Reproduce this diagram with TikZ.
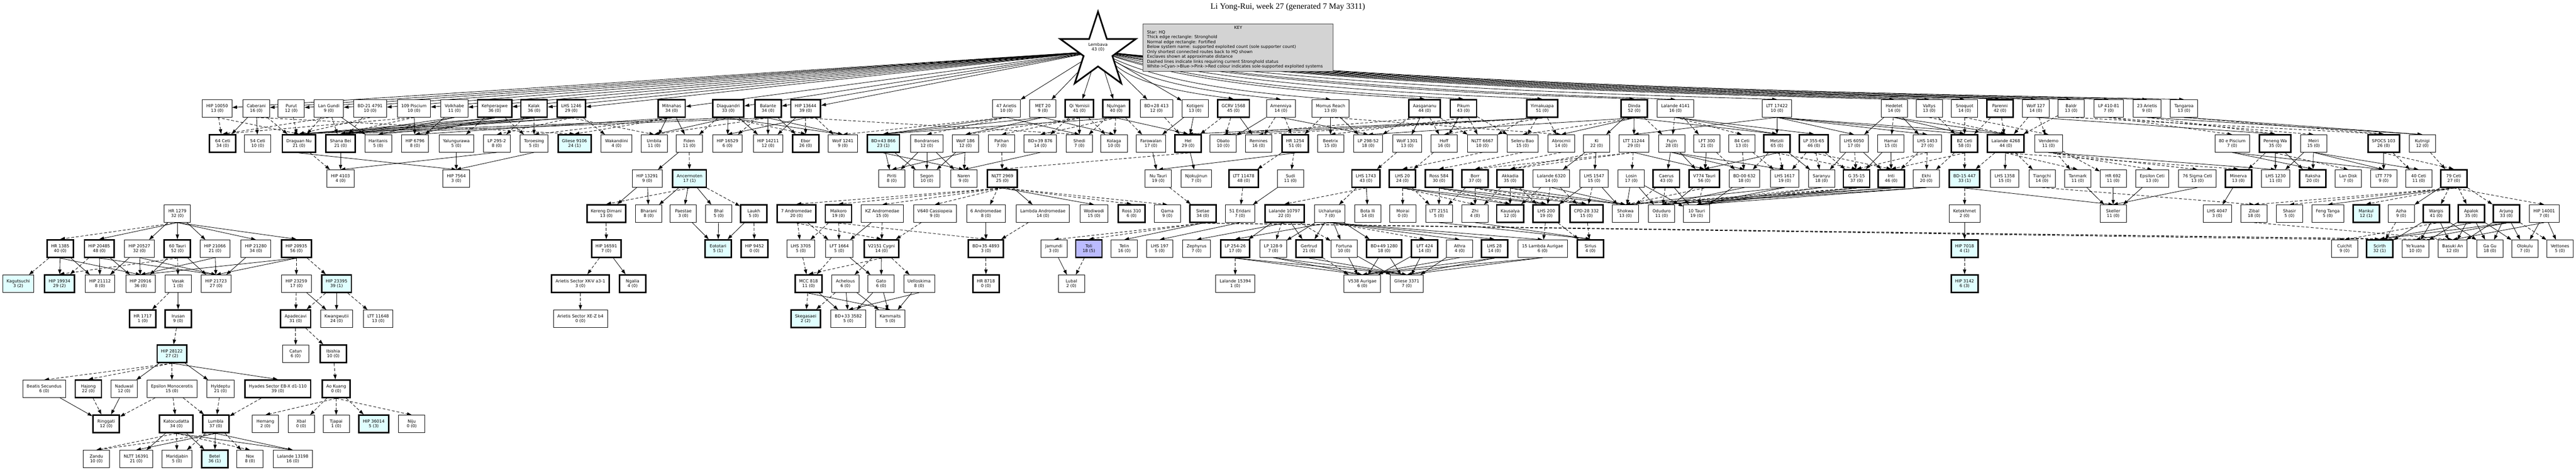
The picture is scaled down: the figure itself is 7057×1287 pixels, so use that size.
\documentclass[tikz,border=0pt]{standalone}
\usepackage{fontspec}
\setmainfont{DejaVu Sans}
\newfontfamily\titlefont{Liberation Serif}
\usetikzlibrary{shapes.geometric,arrows.meta}
\pgfdeclarelayer{bgl}
\pgfdeclarelayer{edl}
\pgfsetlayers{bgl,edl,main}
\definecolor{cyanbg}{HTML}{E0FFFF}
\definecolor{bluebg}{HTML}{BBBBFF}
\definecolor{keybg}{HTML}{D3D3D3}
\newdimen\grxa \newdimen\grxb
\newcommand\grEdge[3]{%
  \pgfextractx{\grxa}{\pgfpointanchor{#2}{center}}%
  \pgfextractx{\grxb}{\pgfpointanchor{#3}{center}}%
  \pgfmathsetmacro\grdx{abs(\grxa-\grxb)}%
  \ifdim\grdx pt>90pt\relax\draw[#1] (#2.south) -- (#3.north);\else\draw[#1] (#2) -- (#3);\fi}
\newcommand\sysnode[6]{\node[#1] (#2) at (#3,#4) {#5\\#6};}
\tikzset{
  sys/.style={draw=black, line width=0.6pt, fill=white, minimum width=36pt, minimum height=24pt, inner xsep=5.5pt, inner ysep=0pt, align=center, font=\fontsize{5.75}{6.5}\selectfont},
  fort/.style={sys},
  strong/.style={sys, line width=2pt},
  fortc/.style={sys, fill=cyanbg},
  strongc/.style={strong, fill=cyanbg},
  strongb/.style={strong, fill=bluebg},
  lnk/.style={line width=0.6pt, -{Triangle[length=6.5pt,width=4.5pt]}},
  dlnk/.style={lnk, dash pattern=on 4pt off 2.5pt},
}
\begin{document}
\begin{tikzpicture}[x=0.5pt,y=-0.5pt]
\begin{pgfonlayer}{bgl}
\fill[white] (0,0) rectangle (7057,1287);
\end{pgfonlayer}
\useasboundingbox (0,0) rectangle (7057,1287);
% title, star, key
\node[font=\titlefont\fontsize{11.3}{13}\selectfont, inner sep=0pt] (title) at (3528,19) {Li Yong-Rui, week 27 (generated 7 May 3311)};
\node[star, star points=5, star point ratio=2.618, minimum size=108.5pt, inner sep=0pt, draw, line width=2.2pt, fill=white] (star) at (3008,140.5) {};
\node[font=\fontsize{5.75}{6.5}\selectfont, align=center, inner sep=0pt] (starlbl) at (3008,129) {Lembava\\43 (0)};
\node[draw=black!75, line width=0.6pt, fill=keybg, minimum width=260.5pt, minimum height=65.5pt, inner sep=0pt] (key) at (3391.5,130.5) {};
\node[font=\fontsize{5.75}{6.5}\selectfont, inner sep=0pt] (keyttl) at (3392,75.5) {KEY};
\node[font=\fontsize{5.75}{6.65}\selectfont, align=left, anchor=west, inner sep=0pt] (keytxt) at (3142,136) {Star: HQ\\Thick edge rectangle: Stronghold\\Normal edge rectangle: Fortified\\Below system name: supported exploited count (sole supporter count)\\Only shortest connected routes back to HQ shown\\Exclaves shown at approximate distance\\Dashed lines indicate links requiring current Stronghold status\\White->Cyan->Blue->Pink->Red colour indicates sole-supported exploited systems};
% row 1
\sysnode{fort}{a01}{595}{297}{HIP 10050}{13 (0)}
\sysnode{fort}{a02}{702}{297}{Caberani}{16 (0)}
\sysnode{fort}{a03}{798}{297}{Purut}{12 (0)}
\sysnode{fort}{a04}{901}{297}{Lan Gundi}{9 (0)}
\sysnode{fort}{a05}{1014}{297}{BD-21 4791}{10 (0)}
\sysnode{fort}{a06}{1134}{297}{109 Piscium}{10 (0)}
\sysnode{fort}{a07}{1245}{297}{Volkhabe}{11 (0)}
\sysnode{strong}{a08}{1355}{297}{Kehperagwe}{36 (0)}
\sysnode{strong}{a09}{1463}{297}{Kalak}{36 (0)}
\sysnode{strong}{a10}{1565}{297}{LHS 1246}{29 (0)}
\sysnode{strong}{a11}{1840}{297}{Mitnahas}{34 (0)}
\sysnode{strong}{a12}{1995}{297}{Diaguandri}{33 (0)}
\sysnode{strong}{a13}{2104}{297}{Balante}{34 (0)}
\sysnode{strong}{a14}{2207}{297}{HIP 13644}{39 (0)}
\sysnode{fort}{a15}{2757}{297}{47 Arietis}{10 (0)}
\sysnode{fort}{a16}{2857}{297}{MET 20}{9 (0)}
\sysnode{strong}{a17}{2957}{297}{Qi Yomisii}{41 (0)}
\sysnode{strong}{a18}{3058}{297}{Njulngan}{40 (0)}
\sysnode{fort}{a19}{3168}{297}{BD+28 413}{12 (0)}
\sysnode{fort}{a20}{3274}{297}{Kotigeni}{13 (0)}
\sysnode{strong}{a21}{3379}{297}{GCRV 1568}{45 (0)}
\sysnode{fort}{a22}{3509}{297}{Amenniya}{14 (0)}
\sysnode{fort}{a23}{3645}{297}{Momus Reach}{13 (0)}
\sysnode{strong}{a24}{3903}{297}{Aasgananu}{44 (0)}
\sysnode{strong}{a25}{4009}{297}{Pikum}{43 (0)}
\sysnode{strong}{a26}{4225}{297}{Yimakuapa}{51 (0)}
\sysnode{strong}{a27}{4477}{297}{Dinda}{52 (0)}
\sysnode{fort}{a28}{4590}{297}{Lalande 4141}{16 (0)}
\sysnode{fort}{a29}{4868}{297}{LTT 17422}{10 (0)}
\sysnode{fort}{a30}{5189}{297}{Hedetet}{14 (0)}
\sysnode{fort}{a31}{5285}{297}{Valtys}{13 (0)}
\sysnode{fort}{a32}{5382}{297}{Snoquot}{14 (0)}
\sysnode{strong}{a33}{5479}{297}{Parenni}{42 (0)}
\sysnode{fort}{a34}{5577}{297}{Wolf 127}{14 (0)}
\sysnode{fort}{a35}{5674}{297}{Baldr}{13 (0)}
\sysnode{fort}{a36}{5777}{297}{LP 410-81}{7 (0)}
\sysnode{fort}{a37}{5882}{297}{23 Arietis}{9 (0)}
\sysnode{fort}{a38}{5983}{297}{Tangaroa}{13 (0)}
% row 2
\sysnode{strong}{b01}{610}{393}{64 Ceti}{34 (0)}
\sysnode{fort}{b02}{706}{393}{54 Ceti}{10 (0)}
\sysnode{strong}{b03}{819}{393}{Draguan Nu}{21 (0)}
\sysnode{strong}{b04}{933}{393}{Shana Bei}{21 (0)}
\sysnode{fort}{b05}{1036}{393}{Haritanis}{5 (0)}
\sysnode{fort}{b06}{1137}{393}{HIP 6796}{8 (0)}
\sysnode{fort}{b07}{1250}{393}{Yalungurawa}{5 (0)}
\sysnode{fort}{b08}{1361}{393}{LP 295-2}{8 (0)}
\sysnode{fort}{b09}{1463}{393}{Toroesing}{5 (0)}
\sysnode{strongc}{b10}{1574}{393}{Gliese 9106}{24 (1)}
\sysnode{fort}{b11}{1689}{393}{Wakandiini}{4 (0)}
\sysnode{fort}{b12}{1792}{393}{Umbila}{11 (0)}
\sysnode{fort}{b13}{1888}{393}{Fiden}{11 (0)}
\sysnode{fort}{b14}{1993}{393}{HIP 16529}{6 (0)}
\sysnode{fort}{b15}{2104}{393}{HIP 14211}{12 (0)}
\sysnode{strong}{b16}{2207}{393}{Ebor}{26 (0)}
\sysnode{fort}{b17}{2309}{393}{Wolf 1241}{9 (0)}
\sysnode{strongc}{b18}{2420}{393}{BD+43 866}{23 (1)}
\sysnode{fort}{b19}{2539}{393}{Bondranses}{12 (0)}
\sysnode{fort}{b20}{2645}{393}{Wolf 186}{12 (0)}
\sysnode{fort}{b21}{2744}{393}{Pathan}{7 (0)}
\sysnode{fort}{b22}{2850}{393}{BD+39 876}{14 (0)}
\sysnode{fort}{b23}{2957}{393}{Shedi}{7 (0)}
\sysnode{fort}{b24}{3052}{393}{Kolaga}{10 (0)}
\sysnode{fort}{b25}{3153}{393}{Farowalan}{17 (0)}
\sysnode{strong}{b26}{3255}{393}{Hel}{29 (0)}
\sysnode{fort}{b27}{3351}{393}{Obato}{10 (0)}
\sysnode{fort}{b28}{3448}{393}{Remines}{16 (0)}
\sysnode{strong}{b29}{3548}{393}{HR 1254}{51 (0)}
\sysnode{fort}{b30}{3645}{393}{Beetrix}{15 (0)}
\sysnode{fort}{b31}{3748}{393}{LP 298-52}{18 (0)}
\sysnode{fort}{b32}{3855}{393}{Wolf 1301}{13 (0)}
\sysnode{fort}{b33}{3956}{393}{Hoff}{16 (0)}
\sysnode{fort}{b34}{4061}{393}{NLTT 6667}{10 (0)}
\sysnode{fort}{b35}{4171}{393}{Seleru Bao}{15 (0)}
\sysnode{fort}{b36}{4277}{393}{Abrocmii}{14 (0)}
\sysnode{fort}{b37}{4374}{393}{Ki}{22 (0)}
\sysnode{fort}{b38}{4476}{393}{LTT 11244}{29 (0)}
\sysnode{fort}{b39}{4580}{393}{Fujin}{28 (0)}
\sysnode{fort}{b40}{4676}{393}{LFT 300}{21 (0)}
\sysnode{fort}{b41}{4772}{393}{84 Ceti}{13 (0)}
\sysnode{strong}{b42}{4868}{393}{Metzili}{65 (0)}
\sysnode{strong}{b43}{4969}{393}{LP 355-65}{46 (0)}
\sysnode{fort}{b44}{5079}{393}{LHS 6050}{17 (0)}
\sysnode{fort}{b45}{5180}{393}{Hamal}{15 (0)}
\sysnode{fort}{b46}{5280}{393}{LHS 1453}{27 (0)}
\sysnode{strong}{b47}{5382}{393}{BZ Ceti}{58 (0)}
\sysnode{strong}{b48}{5495}{393}{Lalande 4268}{44 (0)}
\sysnode{fort}{b49}{5612}{393}{Vendemo}{11 (0)}
\sysnode{fort}{b50}{6115}{393}{80 e Piscium}{7 (0)}
\sysnode{strong}{b51}{6233}{393}{Peneng Wa}{35 (0)}
\sysnode{fort}{b52}{6338}{393}{Meiri}{15 (0)}
\sysnode{strong}{b53}{6530}{393}{SPOCS 103}{26 (0)}
\sysnode{fort}{b54}{6636}{393}{Kutnigi}{12 (0)}
% row 3
\sysnode{fort}{c01}{933}{489}{HIP 4103}{4 (0)}
\sysnode{fort}{c02}{1250}{489}{HIP 7564}{3 (0)}
\sysnode{fort}{c03}{1773}{489}{HIP 13291}{9 (0)}
\sysnode{strongc}{c04}{1889}{489}{Ancermoten}{17 (1)}
\sysnode{fort}{c05}{2443}{489}{Piriti}{8 (0)}
\sysnode{fort}{c06}{2539}{489}{Segon}{10 (0)}
\sysnode{fort}{c07}{2640}{489}{Naren}{9 (0)}
\sysnode{strong}{c08}{2746}{489}{NLTT 2969}{25 (0)}
\sysnode{fort}{c09}{3173}{489}{Nu Tauri}{19 (0)}
\sysnode{fort}{c10}{3277}{489}{Njokujinun}{7 (0)}
\sysnode{strong}{c11}{3407}{489}{LTT 11478}{48 (0)}
\sysnode{fort}{c12}{3535}{489}{Sudi}{11 (0)}
\sysnode{strong}{c13}{3742}{489}{LHS 1743}{43 (0)}
\sysnode{strong}{c14}{3842}{489}{LHS 20}{24 (0)}
\sysnode{strong}{c15}{3942}{489}{Ross 584}{30 (0)}
\sysnode{strong}{c16}{4041}{489}{Borr}{37 (0)}
\sysnode{strong}{c17}{4137}{489}{Akkadia}{35 (0)}
\sysnode{fort}{c18}{4250}{489}{Lalande 6320}{14 (0)}
\sysnode{fort}{c19}{4367}{489}{LHS 1547}{15 (0)}
\sysnode{fort}{c20}{4469}{489}{Losin}{17 (0)}
\sysnode{strong}{c21}{4565}{489}{Caerus}{43 (0)}
\sysnode{strong}{c22}{4669}{489}{V774 Tauri}{56 (0)}
\sysnode{fort}{c23}{4779}{489}{BD-00 632}{18 (0)}
\sysnode{fort}{c24}{4889}{489}{LHS 1617}{19 (0)}
\sysnode{fort}{c25}{4990}{489}{Saranyu}{18 (0)}
\sysnode{strong}{c26}{5086}{489}{G 35-15}{37 (0)}
\sysnode{strong}{c27}{5181}{489}{Inti}{46 (0)}
\sysnode{fort}{c28}{5277}{489}{Ekhi}{20 (0)}
\sysnode{strongc}{c29}{5382}{489}{BD-15 447}{33 (1)}
\sysnode{fort}{c30}{5492}{489}{LHS 1358}{15 (0)}
\sysnode{fort}{c31}{5594}{489}{Tiangchi}{14 (0)}
\sysnode{fort}{c32}{5692}{489}{Tanmark}{11 (0)}
\sysnode{fort}{c33}{5789}{489}{HR 692}{11 (0)}
\sysnode{fort}{c34}{5896}{489}{Epsilon Ceti}{13 (0)}
\sysnode{fort}{c35}{6020}{489}{76 Sigma Ceti}{13 (0)}
\sysnode{strong}{c36}{6132}{489}{Minerva}{13 (0)}
\sysnode{fort}{c37}{6234}{489}{LHS 1230}{11 (0)}
\sysnode{strong}{c38}{6336}{489}{Raksha}{20 (0)}
\sysnode{fort}{c39}{6433}{489}{Lan Disk}{7 (0)}
\sysnode{fort}{c40}{6530}{489}{LTT 779}{9 (0)}
\sysnode{fort}{c41}{6626}{489}{40 Ceti}{11 (0)}
\sysnode{strong}{c42}{6722}{489}{79 Ceti}{27 (0)}
% row 4
\sysnode{fort}{d01}{486}{585}{HR 1279}{32 (0)}
\sysnode{strong}{d02}{1661}{585}{Kereng Dimani}{13 (0)}
\sysnode{fort}{d03}{1777}{585}{Bharani}{8 (0)}
\sysnode{fort}{d04}{1872}{585}{Paestae}{3 (0)}
\sysnode{fort}{d05}{1969}{585}{Bhal}{5 (0)}
\sysnode{strong}{d06}{2065}{585}{Laukh}{5 (0)}
\sysnode{strong}{d07}{2182}{585}{7 Andromedae}{20 (0)}
\sysnode{strong}{d08}{2297}{585}{Maikoro}{19 (0)}
\sysnode{fort}{d09}{2417}{585}{KZ Andromedae}{15 (0)}
\sysnode{fort}{d10}{2561}{585}{V640 Cassiopeia}{9 (0)}
\sysnode{fort}{d11}{2701}{585}{6 Andromedae}{8 (0)}
\sysnode{fort}{d12}{2857}{585}{Lambda Andromedae}{14 (0)}
\sysnode{fort}{d13}{2997}{585}{Wodiwodi}{15 (0)}
\sysnode{strong}{d14}{3100}{585}{Ross 310}{6 (0)}
\sysnode{fort}{d15}{3198}{585}{Qama}{9 (0)}
\sysnode{strong}{d16}{3295}{585}{Sietae}{34 (0)}
\sysnode{fort}{d17}{3397}{585}{51 Eridani}{7 (0)}
\sysnode{strong}{d18}{3519}{585}{Lalande 10797}{22 (0)}
\sysnode{fort}{d19}{3643}{585}{Uchaluroja}{7 (0)}
\sysnode{fort}{d20}{3747}{585}{Bota Ili}{14 (0)}
\sysnode{fort}{d21}{3843}{585}{Moirai}{0 (0)}
\sysnode{fort}{d22}{3942}{585}{LTT 2151}{5 (0)}
\sysnode{fort}{d23}{4041}{585}{Zhi}{4 (0)}
\sysnode{strong}{d24}{4137}{585}{Kausalya}{12 (0)}
\sysnode{strong}{d25}{4236}{585}{LHS 200}{19 (0)}
\sysnode{strong}{d26}{4346}{585}{CPD-28 332}{15 (0)}
\sysnode{fort}{d27}{4453}{585}{Shokwa}{13 (0)}
\sysnode{fort}{d28}{4552}{585}{Oduduro}{11 (0)}
\sysnode{fort}{d29}{4648}{585}{10 Tauri}{19 (0)}
\sysnode{fort}{d30}{5382}{585}{Ketekhmet}{2 (0)}
\sysnode{fort}{d31}{5789}{585}{Skeller}{11 (0)}
\sysnode{fort}{d32}{6074}{585}{LHS 4047}{3 (0)}
\sysnode{fort}{d33}{6175}{585}{Zibal}{18 (0)}
\sysnode{fort}{d34}{6272}{585}{Shasir}{5 (0)}
\sysnode{fort}{d35}{6377}{585}{Feng Tanga}{5 (0)}
\sysnode{strongc}{d36}{6482}{585}{Mankul}{12 (1)}
\sysnode{fort}{d37}{6578}{585}{Azha}{9 (0)}
\sysnode{strong}{d38}{6674}{585}{Wargis}{41 (0)}
\sysnode{strong}{d39}{6770}{585}{Apalok}{35 (0)}
\sysnode{strong}{d40}{6866}{585}{Arjung}{33 (0)}
\sysnode{fort}{d41}{6970}{585}{HIP 14001}{7 (0)}
% row 5
\sysnode{strong}{e01}{165}{681}{HR 1385}{40 (0)}
\sysnode{strong}{e02}{272}{681}{HIP 20485}{48 (0)}
\sysnode{fort}{e03}{382}{681}{HIP 20527}{32 (0)}
\sysnode{strong}{e04}{486}{681}{60 Tauri}{52 (0)}
\sysnode{fort}{e05}{589}{681}{HIP 21066}{21 (0)}
\sysnode{fort}{e06}{701}{681}{HIP 21280}{34 (0)}
\sysnode{strong}{e07}{812}{681}{HIP 20935}{56 (0)}
\sysnode{strong}{e08}{1661}{681}{HIP 16591}{7 (0)}
\sysnode{strongc}{e09}{1967}{681}{Eototari}{5 (1)}
\sysnode{strong}{e10}{2067}{681}{HIP 9452}{0 (0)}
\sysnode{fort}{e11}{2194}{681}{LHS 3705}{5 (0)}
\sysnode{fort}{e12}{2299}{681}{LFT 1664}{5 (0)}
\sysnode{strong}{e13}{2415}{681}{V2151 Cygni}{14 (0)}
\sysnode{strong}{e14}{2701}{681}{BD+35 4893}{3 (0)}
\sysnode{fort}{e15}{2887}{681}{Jamundi}{3 (0)}
\sysnode{strongb}{e16}{2983}{681}{Toli}{18 (5)}
\sysnode{fort}{e17}{3080}{681}{Telin}{16 (0)}
\sysnode{fort}{e18}{3177}{681}{LHS 197}{5 (0)}
\sysnode{fort}{e19}{3278}{681}{Zephyrus}{7 (0)}
\sysnode{strong}{e20}{3384}{681}{LP 254-26}{17 (0)}
\sysnode{fort}{e21}{3488}{681}{LP 128-9}{7 (0)}
\sysnode{strong}{e22}{3586}{681}{Gertrud}{21 (0)}
\sysnode{fort}{e23}{3682}{681}{Fortuna}{10 (0)}
\sysnode{strong}{e24}{3792}{681}{BD+49 1280}{18 (0)}
\sysnode{strong}{e25}{3903}{681}{LFT 424}{14 (0)}
\sysnode{fort}{e26}{3999}{681}{Athra}{4 (0)}
\sysnode{strong}{e27}{4094}{681}{LHS 28}{14 (0)}
\sysnode{fort}{e28}{4226}{681}{15 Lambda Aurigae}{6 (0)}
\sysnode{strong}{e29}{4357}{681}{Sirius}{4 (0)}
\sysnode{strongc}{e30}{5382}{681}{HIP 7018}{4 (1)}
\sysnode{fort}{e31}{6423}{681}{Cuichit}{9 (0)}
\sysnode{strongc}{e32}{6519}{681}{Scirth}{32 (1)}
\sysnode{fort}{e33}{6617}{681}{Ye'kuana}{10 (0)}
\sysnode{fort}{e34}{6719}{681}{Basuki An}{12 (0)}
\sysnode{fort}{e35}{6821}{681}{Ga Gu}{18 (0)}
\sysnode{fort}{e36}{6917}{681}{Olokulu}{7 (0)}
\sysnode{fort}{e37}{7013}{681}{Vettones}{5 (0)}
% row 6
\sysnode{fortc}{f01}{50}{777}{Kagutsuchi}{3 (2)}
\sysnode{strongc}{f02}{163}{777}{HIP 19934}{29 (2)}
\sysnode{fort}{f03}{274}{777}{HIP 21112}{8 (0)}
\sysnode{fort}{f04}{385}{777}{HIP 20916}{36 (0)}
\sysnode{fort}{f05}{488}{777}{Vasak}{1 (0)}
\sysnode{fort}{f06}{592}{777}{HIP 21723}{27 (0)}
\sysnode{fort}{f07}{812}{777}{HIP 23259}{17 (0)}
\sysnode{strongc}{f08}{922}{777}{HIP 23395}{39 (1)}
\sysnode{strong}{f09}{1590}{777}{Arietis Sector XK-V a3-1}{3 (0)}
\sysnode{strong}{f10}{1733}{777}{Ngalia}{4 (0)}
\sysnode{strong}{f11}{2215}{777}{MCC 818}{11 (0)}
\sysnode{fort}{f12}{2316}{777}{Achelous}{6 (0)}
\sysnode{fort}{f13}{2414}{777}{Gato}{6 (0)}
\sysnode{fort}{f14}{2518}{777}{Uelloskima}{8 (0)}
\sysnode{strong}{f15}{2701}{777}{HR 8718}{0 (0)}
\sysnode{fort}{f16}{2935}{777}{Lubal}{2 (0)}
\sysnode{fort}{f17}{3384}{777}{Lalande 15394}{1 (0)}
\sysnode{fort}{f18}{3732}{777}{V538 Aurigae}{6 (0)}
\sysnode{fort}{f19}{3854}{777}{Gliese 3371}{7 (0)}
\sysnode{strongc}{f20}{5382}{777}{HIP 3142}{6 (3)}
% row 7
\sysnode{strong}{g01}{391}{873}{HR 1717}{1 (0)}
\sysnode{strong}{g02}{488}{873}{Irusan}{9 (0)}
\sysnode{strong}{g03}{810}{873}{Apadecavi}{31 (0)}
\sysnode{fort}{g04}{922}{873}{Kwangwutii}{24 (0)}
\sysnode{fort}{g05}{1036}{873}{LTT 11648}{13 (0)}
\sysnode{fort}{g06}{1590}{873}{Arietis Sector XE-Z b4}{0 (0)}
\sysnode{strongc}{g07}{2207}{873}{Skegasaei}{2 (2)}
\sysnode{fort}{g08}{2324}{873}{BD+33 3582}{5 (0)}
\sysnode{fort}{g09}{2439}{873}{Kammaits}{5 (0)}
% row 8
\sysnode{strongc}{h01}{471}{969}{HIP 28122}{27 (2)}
\sysnode{fort}{h02}{810}{969}{Catun}{6 (0)}
\sysnode{strong}{h03}{913}{969}{Ibishia}{10 (0)}
% row 9
\sysnode{fort}{i01}{121}{1065}{Beatis Secundus}{6 (0)}
\sysnode{strong}{i02}{242}{1065}{Hajong}{22 (0)}
\sysnode{fort}{i03}{340}{1065}{Naduwal}{12 (0)}
\sysnode{fort}{i04}{471}{1065}{Epsilon Monocerotis}{15 (0)}
\sysnode{fort}{i05}{604}{1065}{Hyldeptu}{21 (0)}
\sysnode{strong}{i06}{761}{1065}{Hyades Sector EB-X d1-110}{39 (0)}
\sysnode{strong}{i07}{921}{1065}{Ao Kuang}{0 (0)}
% row 10
\sysnode{strong}{j01}{291}{1161}{Ringgati}{12 (0)}
\sysnode{strong}{j02}{483}{1161}{Katocudatta}{34 (0)}
\sysnode{strong}{j03}{591}{1161}{Lumbla}{37 (0)}
\sysnode{fort}{j04}{727}{1161}{Hemang}{2 (0)}
\sysnode{fort}{j05}{825}{1161}{Xbal}{0 (0)}
\sysnode{fort}{j06}{921}{1161}{Tjapai}{1 (0)}
\sysnode{strongc}{j07}{1024}{1161}{HIP 36014}{5 (3)}
\sysnode{fort}{j08}{1128}{1161}{Niju}{0 (0)}
% row 11
\sysnode{fort}{k01}{264}{1257}{Zandu}{10 (0)}
\sysnode{fort}{k02}{373}{1257}{NLTT 16391}{21 (0)}
\sysnode{fort}{k03}{485}{1257}{Maridjabin}{5 (0)}
\sysnode{strongc}{k04}{588}{1257}{Betel}{36 (1)}
\sysnode{fort}{k05}{685}{1257}{Nox}{8 (0)}
\sysnode{fort}{k06}{802}{1257}{Lalande 13198}{16 (0)}
\begin{pgfonlayer}{edl}
% star edges
\foreach \n in {a01,a02,a03,a04,a05,a06,a07,a08,a09,a10,a11,a12,a13,a14,a15,a16,a17,a18,a19,a20}
  {\draw[lnk] (star) -- (\n);}
\foreach \n/\xx in {a21/3379,a22/3509,a23/3645,a24/3903,a25/4009,a26/4225,a27/4477,a28/4590,a29/4868,a30/5189,a31/5285,a32/5382,a33/5479,a34/5577,a35/5674,a36/5777,a37/5882,a38/5983}
  {\draw[lnk] (star) .. controls ({3008+0.35*(\xx-3008)},245) and ({\xx-0.15*(\xx-3008)},262) .. (\n.north);}
% solid links
\foreach \p/\q in {a02/b01,a02/b02,a04/b05,a06/b06,a07/b06,a07/b05,a07/b04,a08/b03,a08/b04,a08/b06,a09/b03,a09/b04,a09/b05,a10/b03,a10/b04,a11/b12,a11/b13,a11/b06,a12/b14,a12/b15,a12/b17,a12/b12,a12/b03,a13/b15,a13/b16,a13/b17,a13/b04,a14/b15,a14/b14,
a15/b18,a15/b23,a16/b20,a16/b18,a16/b24,a17/b23,a18/b26,a18/b18,a20/b25,a20/b26,a21/b28,
a22/b27,a22/b31,a23/b30,a23/b31,a24/b32,a25/b33,a26/b26,a26/b27,a27/b36,a27/b37,a27/b31,a27/b38,a27/b42,
a28/b42,a28/b43,a29/b42,a29/b44,a29/b46,a29/b47,a29/b48,a29/b38,a30/b44,a30/b46,a30/b47,a30/b48,a34/b51,a37/b54,a38/b54,
b03/c02,b04/c01,b07/c02,b08/c01,b09/c02,b13/c03,b18/c05,b18/c06,b18/c07,b19/c05,b19/c06,b19/c07,b20/c05,b20/c06,b20/c07,b22/c07,b25/c09,b26/c10,b29/c09,b37/c18,b37/c19,b38/c22,b39/c21,b39/c22,b39/c23,b39/c24,b40/c22,b42/c22,b42/c25,b44/c25,b44/c27,b45/c26,b45/c27,b48/c30,b49/c37,b50/c38,b50/c40,b51/c37,b51/c38,b52/c37,b52/c38,b52/c40,b52/c41,b53/c40,
c03/d02,c03/d03,c04/d03,c04/d04,c04/d05,c08/d12,c08/d13,c12/d17,c13/d20,c14/d24,c14/d25,c15/d25,c15/d26,c16/d27,c17/d27,c18/d27,c19/d27,c19/d25,c20/d27,c20/d28,c20/d29,c21/d29,c22/d28,c23/d29,c23/d28,c24/d27,c24/d29,c25/d29,c26/d29,c27/d27,c27/d28,c28/d29,c28/d28,c29/d31,c32/d31,c33/d31,c34/d31,c35/d31,c36/d32,c42/d35,c42/d37,
d01/e02,d01/e03,d01/e04,d01/e05,d01/e06,d01/e07,d04/e09,d05/e09,d06/e09,d09/e12,d11/e14,d16/e17,d17/e18,d18/e19,d18/e20,d18/e22,d19/e20,d19/e21,d19/e22,d19/e23,d19/e24,d19/e26,d19/e27,d19/e28,d22/e29,d23/e29,d30/e30,d38/e32,d38/e33,d38/e34,d38/e35,d39/e32,d39/e33,d39/e34,d39/e35,d39/e36,d40/e32,d40/e33,d40/e34,d40/e35,d40/e36,d41/e34,d41/e36,d41/e37,
e01/f02,e01/f03,e01/f04,e02/f03,e02/f04,e02/f06,e03/f03,e03/f04,e03/f06,e04/f04,e04/f06,e05/f06,e05/f04,e06/f06,e07/f04,e07/f06,e08/f10,e12/f13,e13/f13,e15/f16,e20/f18,e20/f19,e21/f18,e21/f19,e22/f19,e23/f18,e23/f19,e24/f18,e24/f19,e25/f18,e25/f19,e26/f18,e26/f19,e27/f18,e27/f19,e28/f18,e28/f19,
f05/g02,f07/g04,f08/g04,f11/g08,f11/g09,f12/g08,f12/g09,f13/g08,f13/g09,f14/g08,f14/g09,
h01/i03,h01/i05,h01/i06,i01/j01,i03/j01,
j02/k02,j02/k04,j02/k06,j03/k02,j03/k04,j03/k06}
  {\grEdge{lnk}{\p}{\q}}
% dashed links
\foreach \p/\q in {a01/b01,a01/b03,a02/b03,a02/b10,a03/b03,a04/b01,a04/b03,a04/b04,a05/b03,a05/b04,a06/b01,a06/b04,a08/b07,a08/b09,a09/b08,a09/b09,a10/b08,a10/b11,a10/b12,a11/b10,a11/b09,a12/b16,a12/b13,a13/b14,a13/b12,a14/b16,a14/b17,a14/b23,
a15/b17,a15/b19,a17/b20,a17/b21,a17/b24,a17/b22,a18/b24,a18/b22,a18/b25,a18/b23,a19/b26,a21/b27,a21/b26,
a22/b28,a22/b29,a23/b29,a23/b36,a24/b33,a24/b27,a24/b31,a24/b34,a25/b34,a25/b35,a25/b30,a26/b35,a26/b36,a26/b33,a26/b34,a26/b28,a27/b39,a27/b35,
a28/b39,a28/b41,a28/b40,a30/b45,a31/b47,a31/b48,a32/b47,a32/b49,a33/b48,a33/b47,a34/b48,a34/b49,a35/b48,a35/b53,a36/b50,a36/b52,a37/b51,a38/b53,
b03/c01,b13/c04,b21/c08,b26/c08,b29/c11,b29/c12,b32/c13,b34/c14,b33/c14,b35/c15,b36/c16,b37/c17,b38/c16,b38/c17,b38/c20,b41/c23,b41/c24,b42/c24,b42/c26,b42/c23,b43/c25,b43/c26,b43/c27,b43/c24,b44/c26,b46/c27,b46/c28,b46/c26,b47/c28,b47/c29,b47/c27,b48/c29,b48/c31,b48/c32,b48/c36,b49/c32,b49/c33,b49/c34,b49/c35,b51/c36,b51/c39,b53/c41,b53/c42,b54/c42,b40/c23,
c04/d02,c04/d06,c08/d07,c08/d08,c08/d09,c08/d10,c08/d11,c08/d14,c08/d15,c09/d16,c11/d17,c13/d18,c13/d19,c14/d21,c14/d22,c14/d23,c15/d22,c15/d24,c16/d22,c16/d23,c16/d25,c16/d26,c17/d23,c17/d24,c17/d25,c17/d26,c18/d25,c18/d26,c18/d24,c19/d26,c21/d28,c21/d27,c22/d29,c22/d27,c25/d28,c26/d27,c26/d28,c29/d30,c31/d33,c42/d33,c42/d34,c42/d36,c42/d38,c42/d39,c42/d40,c42/d41,
d01/e01,d06/e10,d07/e11,d07/e12,d07/e13,d08/e11,d08/e12,d08/e14,d09/e13,d10/e13,d12/e14,d16/e15,d16/e16,d16/e31,d16/e32,d16/e34,d18/e21,d18/e23,d19/e25,d25/e28,d25/e29,d26/e29,d02/e08,d37/e32,d33/e34,d40/e37,d38/e31,
e01/f01,e02/f02,e04/f05,e04/f02,e07/f07,e07/f08,e08/f09,e11/f11,e12/f11,e13/f11,e13/f12,e13/f14,e14/f15,e16/f16,e20/f17,e22/f18,e30/f20,
f05/g01,f07/g03,f08/g03,f08/g05,f09/g06,f11/g07,f12/g07,
g02/h01,g03/h02,g03/h03,
h01/i01,h01/i02,h01/i04,h03/i07,
i02/j01,i04/j01,i04/j02,i04/j03,i05/j03,i06/j03,i07/j04,i07/j05,i07/j06,i07/j07,i07/j08,
j02/k01,j02/k03,j02/k05,j03/k01,j03/k03,j03/k05}
  {\grEdge{dlnk}{\p}{\q}}
\end{pgfonlayer}
\end{tikzpicture}
\end{document}
